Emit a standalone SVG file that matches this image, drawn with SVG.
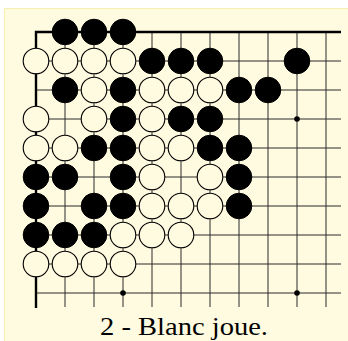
<svg xmlns="http://www.w3.org/2000/svg" width="348" height="341" viewBox="0 0 348 341">
<style>
.bg{fill:#fffbe0;stroke:#f7efb0;stroke-width:1}
.ln{stroke:#2a2a2a;stroke-width:1;fill:none}
.edge{stroke:#000;stroke-width:2.4;fill:none}
.b{fill:#000;stroke:#000;stroke-width:1}
.w{fill:#fffbe0;stroke:#000;stroke-width:1.1}
.star{fill:#000}
text{font-family:"Liberation Serif","DejaVu Serif",serif;font-size:26px;fill:#000}
</style>
<rect class="bg" x="4.5" y="8.5" width="345" height="334"/>
<g id="grid">
<path class="ln" d="M36 61H341M36 90H341M36 119H341M36 148H341M36 177H341M36 206H341M36 235H341M36 264H341M36 293H341"/>
<path class="ln" d="M65 32V307M94 32V307M123 32V307M152 32V307M181 32V307M210 32V307M239 32V307M268 32V307M297 32V307M326 32V307"/>
<path class="edge" d="M36 308V32H341"/>
<circle class="star" cx="123" cy="293" r="2.8"/>
<circle class="star" cx="297" cy="293" r="2.8"/>
<circle class="star" cx="297" cy="119" r="2.8"/>
</g>
<g id="stones">
<g id="r0"><circle class="b" cx="65" cy="32" r="12.8"/><circle class="b" cx="94" cy="32" r="12.8"/><circle class="b" cx="123" cy="32" r="12.8"/></g>
<g id="r1"><circle class="w" cx="36" cy="61" r="12.8"/><circle class="w" cx="65" cy="61" r="12.8"/><circle class="w" cx="94" cy="61" r="12.8"/><circle class="w" cx="123" cy="61" r="12.8"/><circle class="b" cx="152" cy="61" r="12.8"/><circle class="b" cx="181" cy="61" r="12.8"/><circle class="b" cx="210" cy="61" r="12.8"/><circle class="b" cx="297" cy="61" r="12.8"/></g>
<g id="r2"><circle class="b" cx="65" cy="90" r="12.8"/><circle class="w" cx="94" cy="90" r="12.8"/><circle class="b" cx="123" cy="90" r="12.8"/><circle class="w" cx="152" cy="90" r="12.8"/><circle class="w" cx="181" cy="90" r="12.8"/><circle class="w" cx="210" cy="90" r="12.8"/><circle class="b" cx="239" cy="90" r="12.8"/><circle class="b" cx="268" cy="90" r="12.8"/></g>
<g id="r3"><circle class="w" cx="36" cy="119" r="12.8"/><circle class="w" cx="94" cy="119" r="12.8"/><circle class="b" cx="123" cy="119" r="12.8"/><circle class="w" cx="152" cy="119" r="12.8"/><circle class="b" cx="181" cy="119" r="12.8"/><circle class="b" cx="210" cy="119" r="12.8"/></g>
<g id="r4"><circle class="w" cx="36" cy="148" r="12.8"/><circle class="w" cx="65" cy="148" r="12.8"/><circle class="b" cx="94" cy="148" r="12.8"/><circle class="b" cx="123" cy="148" r="12.8"/><circle class="w" cx="152" cy="148" r="12.8"/><circle class="w" cx="181" cy="148" r="12.8"/><circle class="b" cx="210" cy="148" r="12.8"/><circle class="b" cx="239" cy="148" r="12.8"/></g>
<g id="r5"><circle class="b" cx="36" cy="177" r="12.8"/><circle class="b" cx="65" cy="177" r="12.8"/><circle class="b" cx="123" cy="177" r="12.8"/><circle class="w" cx="152" cy="177" r="12.8"/><circle class="w" cx="210" cy="177" r="12.8"/><circle class="b" cx="239" cy="177" r="12.8"/></g>
<g id="r6"><circle class="b" cx="36" cy="206" r="12.8"/><circle class="b" cx="94" cy="206" r="12.8"/><circle class="b" cx="123" cy="206" r="12.8"/><circle class="w" cx="152" cy="206" r="12.8"/><circle class="w" cx="181" cy="206" r="12.8"/><circle class="w" cx="210" cy="206" r="12.8"/><circle class="b" cx="239" cy="206" r="12.8"/></g>
<g id="r7"><circle class="b" cx="36" cy="235" r="12.8"/><circle class="b" cx="65" cy="235" r="12.8"/><circle class="b" cx="94" cy="235" r="12.8"/><circle class="w" cx="123" cy="235" r="12.8"/><circle class="w" cx="152" cy="235" r="12.8"/><circle class="w" cx="181" cy="235" r="12.8"/></g>
<g id="r8"><circle class="w" cx="36" cy="264" r="12.8"/><circle class="w" cx="65" cy="264" r="12.8"/><circle class="w" cx="94" cy="264" r="12.8"/><circle class="w" cx="123" cy="264" r="12.8"/></g>
</g>
<g id="caption"><text x="184" y="335" text-anchor="middle" textLength="168" lengthAdjust="spacingAndGlyphs">2 - Blanc joue.</text></g>
</svg>
